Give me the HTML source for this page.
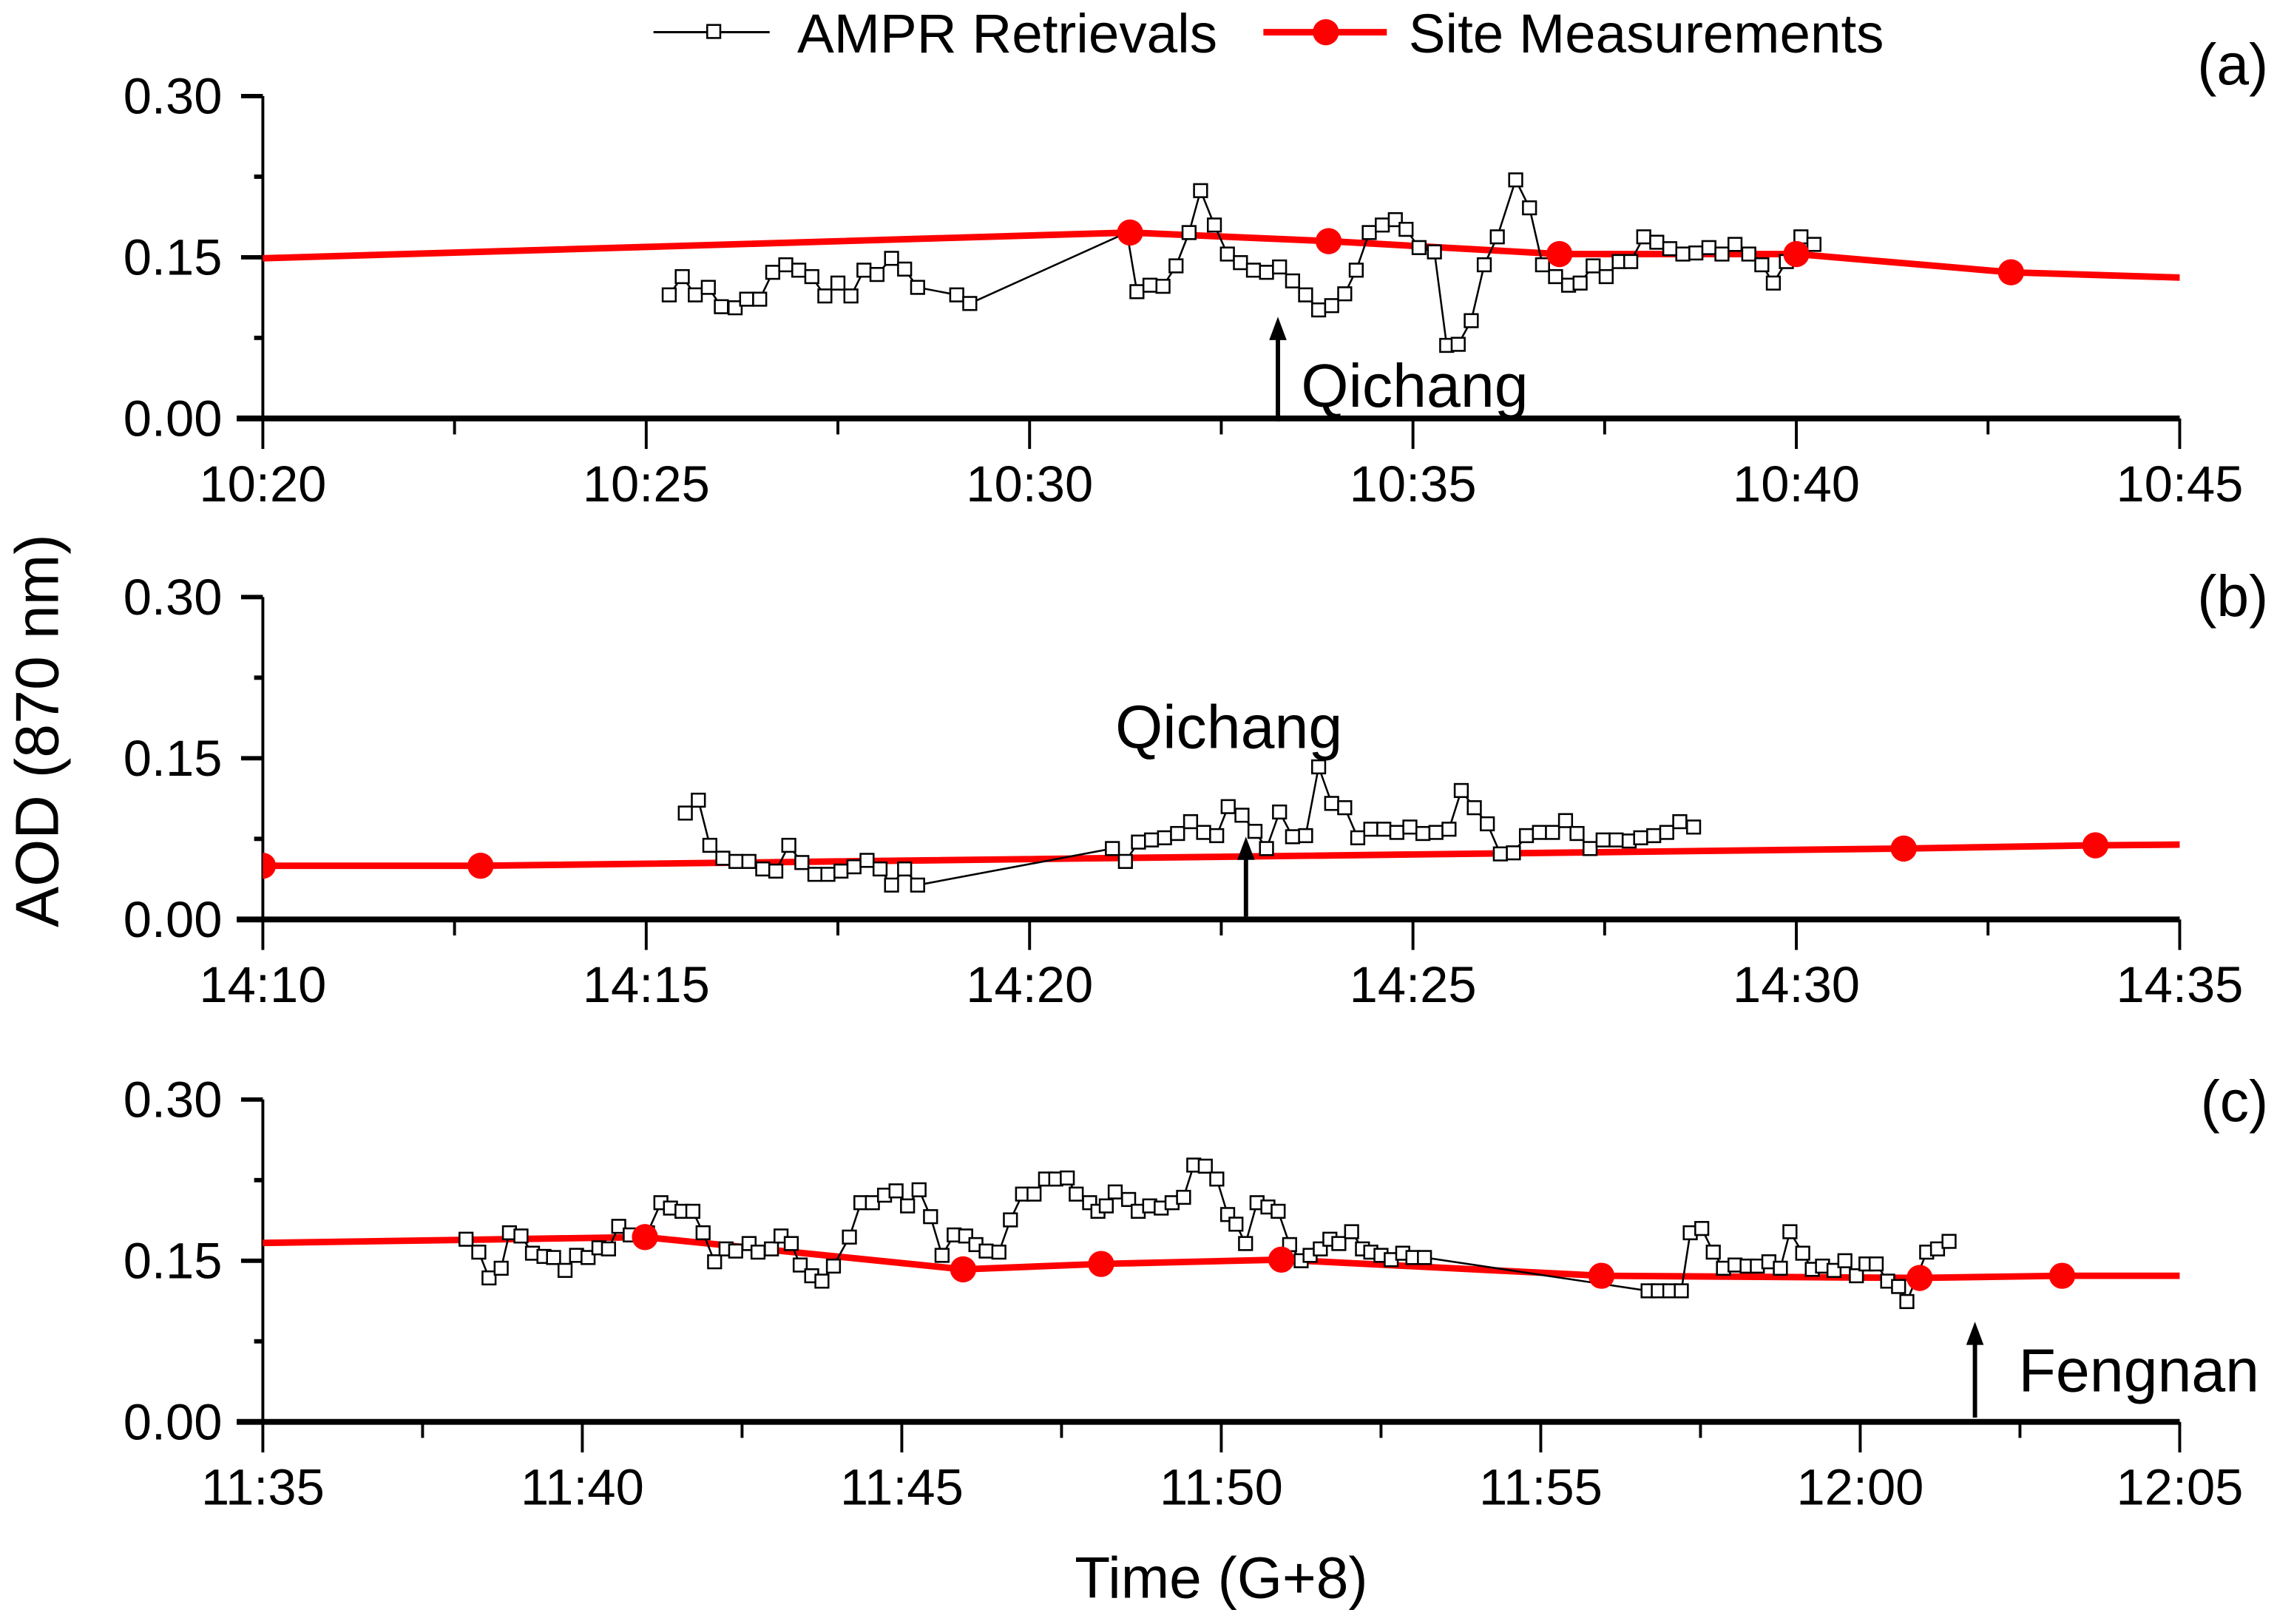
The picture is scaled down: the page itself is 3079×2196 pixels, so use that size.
<!DOCTYPE html>
<html><head><meta charset="utf-8"><style>
html,body{margin:0;padding:0;background:#fff}
svg{display:block}
text{font-family:"Liberation Sans",Arial,sans-serif;fill:#000}
</style></head><body>
<svg id="chart" width="3079" height="2196" viewBox="0 0 1568 1118" xmlns="http://www.w3.org/2000/svg">
<g id="legend">
 <line x1="450" y1="22" x2="530" y2="22" stroke="#000" stroke-width="1.5"/>
 <rect x="487" y="17" width="9" height="9" fill="#fff" stroke="#000" stroke-width="1.3"/>
 <text x="549" y="36" font-size="38">AMPR Retrievals</text>
 <line x1="870" y1="22" x2="955" y2="22" stroke="#f00" stroke-width="4.5"/>
 <circle cx="913" cy="22" r="9" fill="#f00"/>
 <text x="970" y="36" font-size="38">Site Measurements</text>
</g>
<text transform="translate(40,503) rotate(-90)" text-anchor="middle" font-size="42">AOD (870 nm)</text>
<text x="841" y="1100" text-anchor="middle" font-size="40">Time (G+8)</text>
<defs>
 <clipPath id="clipA"><rect x="181" y="0" width="1320" height="1118"/></clipPath>
</defs>
</svg>
<script>
// Panel (a) 10:20–10:45 (minutes from axis start)
const aTicks = ["10:20","10:25","10:30","10:35","10:40","10:45"];
const aAmprT = [5.30,5.47,5.64,5.81,5.98,6.16,6.31,6.48,6.65,6.82,6.99,7.16,7.33,7.50,7.67,7.84,8.01,8.20,8.37,8.54,9.05,9.22,11.27,11.40,11.57,11.74,11.91,12.08,12.23,12.41,12.58,12.75,12.92,13.09,13.26,13.43,13.60,13.77,13.94,14.11,14.26,14.43,14.60,14.77,14.91,15.08,15.28,15.44,15.59,15.76,15.93,16.10,16.34,16.52,16.69,16.86,17.03,17.18,17.35,17.52,17.69,17.84,18.01,18.18,18.35,18.52,18.69,18.86,19.03,19.20,19.38,19.55,19.70,19.87,20.06,20.23];
const aAmprV = [0.115,0.132,0.115,0.122,0.104,0.103,0.111,0.111,0.136,0.143,0.138,0.132,0.114,0.126,0.114,0.138,0.134,0.149,0.139,0.122,0.115,0.107,0.173,0.118,0.124,0.123,0.142,0.173,0.212,0.180,0.153,0.145,0.138,0.136,0.141,0.128,0.115,0.101,0.105,0.116,0.138,0.173,0.180,0.185,0.176,0.159,0.155,0.068,0.069,0.091,0.143,0.169,0.222,0.196,0.143,0.132,0.124,0.126,0.142,0.132,0.146,0.146,0.169,0.164,0.158,0.153,0.154,0.159,0.153,0.162,0.153,0.143,0.126,0.146,0.169,0.162];
const aSiteT = [-0.5,11.31,13.90,16.91,20.0,22.80,25.5];
const aSiteV = [0.148,0.173,0.165,0.153,0.153,0.136,0.130];
// Panel (b) 14:10–14:35
const bTicks = ["14:10","14:15","14:20","14:25","14:30","14:35"];
const bAmprT = [5.51,5.68,5.83,6.00,6.17,6.34,6.52,6.69,6.86,7.03,7.20,7.37,7.54,7.71,7.88,8.05,8.20,8.37,8.54,11.08,11.25,11.42,11.59,11.76,11.93,12.10,12.27,12.44,12.59,12.77,12.94,13.09,13.26,13.43,13.60,13.77,13.94,14.11,14.28,14.45,14.62,14.79,14.96,15.13,15.30,15.47,15.63,15.80,15.97,16.14,16.31,16.48,16.65,16.82,16.99,17.14,17.31,17.48,17.65,17.82,17.97,18.14,18.31,18.48,18.66];
const bAmprV = [0.099,0.111,0.069,0.057,0.054,0.054,0.047,0.045,0.069,0.053,0.042,0.042,0.045,0.049,0.055,0.047,0.032,0.047,0.032,0.066,0.054,0.072,0.074,0.076,0.080,0.091,0.081,0.078,0.105,0.097,0.082,0.066,0.100,0.077,0.078,0.142,0.108,0.104,0.076,0.084,0.084,0.081,0.086,0.080,0.081,0.084,0.120,0.104,0.089,0.061,0.062,0.078,0.081,0.081,0.092,0.080,0.066,0.074,0.074,0.073,0.076,0.078,0.081,0.091,0.086];
const bSiteT = [0,2.84,21.40,23.90,25.5];
const bSiteV = [0.050,0.050,0.066,0.069,0.070];
// Panel (c) 11:35–12:05
const cTicks = ["11:35","11:40","11:45","11:50","11:55","12:00","12:05"];
const cAmprT = [3.18,3.38,3.54,3.73,3.86,4.04,4.22,4.40,4.55,4.73,4.91,5.09,5.26,5.41,5.57,5.75,6.02,6.23,6.38,6.56,6.73,6.89,7.07,7.25,7.40,7.61,7.75,7.96,8.11,8.27,8.41,8.59,8.75,8.93,9.18,9.36,9.54,9.73,9.91,10.09,10.27,10.45,10.63,10.82,11.00,11.16,11.32,11.52,11.70,11.89,12.07,12.25,12.41,12.59,12.73,12.94,13.07,13.20,13.34,13.55,13.70,13.88,14.06,14.23,14.41,14.57,14.75,14.93,15.10,15.23,15.38,15.56,15.73,15.89,16.07,16.25,16.39,16.55,16.70,16.84,17.04,17.21,17.34,17.50,17.66,17.84,18.00,18.18,21.68,21.84,22.02,22.20,22.34,22.52,22.70,22.86,23.04,23.23,23.39,23.57,23.75,23.90,24.10,24.25,24.41,24.59,24.76,24.94,25.09,25.25,25.43,25.60,25.73,25.88,26.04,26.21,26.39];
const cAmprV = [0.170,0.158,0.134,0.143,0.176,0.173,0.157,0.154,0.153,0.141,0.155,0.153,0.162,0.161,0.182,0.174,0.176,0.204,0.199,0.196,0.196,0.176,0.149,0.161,0.159,0.166,0.158,0.161,0.173,0.166,0.146,0.136,0.131,0.145,0.172,0.204,0.204,0.211,0.215,0.201,0.216,0.191,0.155,0.174,0.173,0.165,0.159,0.158,0.188,0.212,0.212,0.226,0.226,0.227,0.212,0.204,0.196,0.201,0.214,0.207,0.196,0.201,0.199,0.204,0.209,0.239,0.238,0.226,0.193,0.184,0.166,0.204,0.200,0.196,0.165,0.150,0.155,0.161,0.170,0.166,0.177,0.161,0.158,0.155,0.151,0.157,0.153,0.153,0.122,0.122,0.122,0.122,0.176,0.180,0.158,0.143,0.146,0.145,0.145,0.149,0.143,0.177,0.157,0.142,0.145,0.141,0.150,0.136,0.147,0.147,0.131,0.126,0.112,0.134,0.158,0.161,0.168];
const cSiteT = [-0.6,5.98,10.96,13.12,15.94,20.95,25.93,28.16,30.6];
const cSiteV = [0.166,0.172,0.142,0.147,0.151,0.136,0.134,0.136,0.136];
const yTicks = ["0.00","0.15","0.30"];

const NS = "http://www.w3.org/2000/svg";
const svg = document.getElementById('chart');
function mk(tag, attrs, parent){ const e=document.createElementNS(NS,tag); for(const k in attrs) e.setAttribute(k,attrs[k]); (parent||svg).appendChild(e); return e; }

const X0=181, X1=1501;
function panel(id, base, span, ticks, at, av, st, sv, label, labelY, arrow){
  const top = base-222;
  const xs = m => X0 + (X1-X0)*m/span;
  const ys = v => base - 222*v/0.30;
  const g = mk('g',{});
  
  
  mk('line',{x1:X0,y1:top,x2:X0,y2:base,stroke:'#000','stroke-width':2},g);
  yTicks.forEach((t,i)=>{
    const y = ys(parseFloat(t));
    mk('line',{x1:X0-15,y1:y,x2:X0,y2:y,stroke:'#000','stroke-width':3},g);
    const tx = mk('text',{x:153,y:y+12,'text-anchor':'end','font-size':35},g);
    tx.textContent=t;
    
    
  });
  [0.075,0.225].forEach(v=>{ const y=ys(v); mk('line',{x1:X0-6,y1:y,x2:X0,y2:y,stroke:'#000','stroke-width':3},g); });
  mk('line',{x1:X0-18,y1:base,x2:X1,y2:base,stroke:'#000','stroke-width':4},g);
  const nMaj = ticks.length-1;
  for(let i=0;i<=nMaj*2;i++){
    const m = span*i/(nMaj*2);
    const x = xs(m);
    mk('line',{x1:x,y1:base,x2:x,y2:base+(i%2===0?21:11),stroke:'#000','stroke-width':2},g);
  }
  ticks.forEach((t,i)=>{
    const tx = mk('text',{x:xs(span*i/nMaj),y:base+57,'text-anchor':'middle','font-size':35},g);
    tx.textContent=t;
    
    
  });
  const cg = mk('g',{'clip-path':'url(#clipA)'},g);
  const sl = mk('polyline',{points:st.map((t,i)=>xs(t)+','+ys(sv[i])).join(' '),fill:'none',stroke:'#f00','stroke-width':4.5},cg);
  
  
  const al = mk('polyline',{points:at.map((t,i)=>xs(t)+','+ys(av[i])).join(' '),fill:'none',stroke:'#000','stroke-width':1.3},cg);
  
  
  at.forEach((t,i)=>{
    const r = mk('rect',{x:xs(t)-4.5,y:ys(av[i])-4.5,width:9,height:9,fill:'#fff',stroke:'#000','stroke-width':1.3},cg);
    
    
  });
  st.forEach((t,i)=>{
    const c = mk('circle',{cx:xs(t),cy:ys(sv[i]),r:9,fill:'#f00'},cg);
    
    
  });
  const pl = mk('text',{x:1562,y:labelY,'text-anchor':'end','font-size':40},g);
  pl.textContent=label;
  
  
  const ag = mk('g',{},g);
  
  
  mk('line',{x1:arrow.x,y1:arrow.y2,x2:arrow.x,y2:arrow.y1+14,stroke:'#000','stroke-width':3},ag);
  mk('polygon',{points:`${arrow.x-6},${arrow.y1+16} ${arrow.x},${arrow.y1} ${arrow.x+6},${arrow.y1+16}`,fill:'#000'},ag);
  const at2 = mk('text',{x:arrow.tx,y:arrow.ty,'font-size':42},ag);
  at2.textContent=arrow.name;
  
  
}
panel('a',288,25,aTicks,aAmprT,aAmprV,aSiteT,aSiteV,'(a)',58,{x:880,y1:218,y2:290,tx:896,ty:280,name:'Qichang'});
panel('b',633,25,bTicks,bAmprT,bAmprV,bSiteT,bSiteV,'(b)',424,{x:858,y1:576,y2:631,tx:768,ty:515,name:'Qichang'});
panel('c',979,30,cTicks,cAmprT,cAmprV,cSiteT,cSiteV,'(c)',772,{x:1360,y1:910,y2:976,tx:1390,ty:958,name:'Fengnan'});
</script>
</body></html>
